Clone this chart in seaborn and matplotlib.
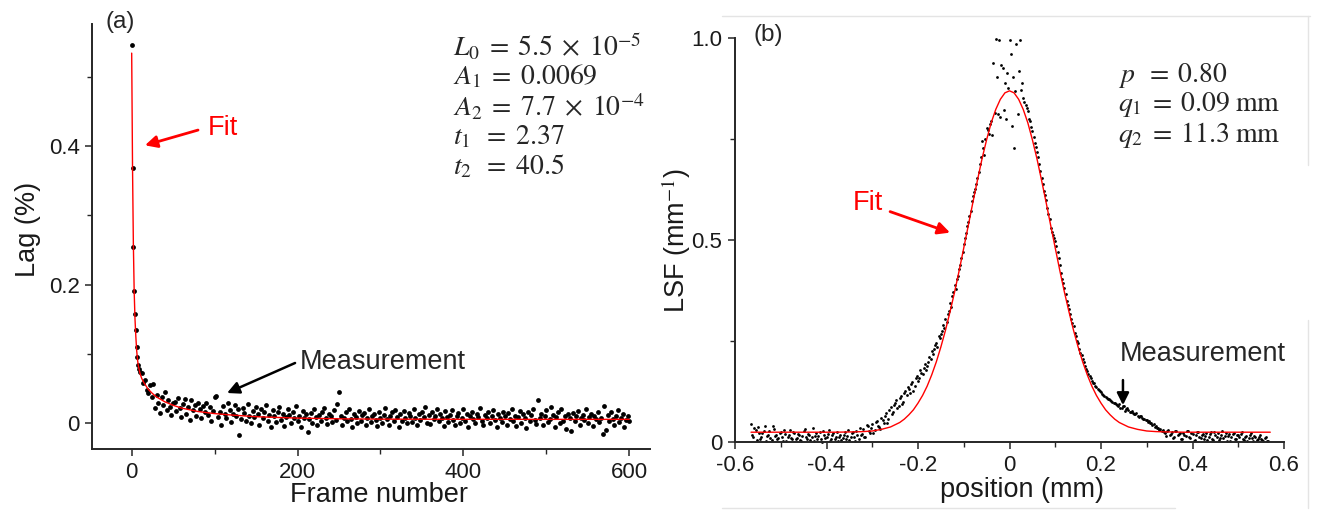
import numpy as np
import matplotlib
matplotlib.use("Agg")
import matplotlib.pyplot as plt
from matplotlib.lines import Line2D
import seaborn as sns

# ---------------- data: panel (a) lag vs frame ----------------
frames = list(range(0, 11)) + list(range(12, 601, 2))
# lag in units of 0.001 %
lag_milli = [
    546, 368, 254, 191, 157, 135, 110, 95, 84, 78, 74,
    72, 58, 63, 48, 44, 55, 38, 57, 22, 41, 29, 15, 38, 27, 45, 19, 33, 24, 12, 30,
    31, 18, 37, 22, 9, 28, 35, 14, 24, 5, 33, 19, 27, 11, 30, 21, 8, 25, 16, 29,
    12, 23, 4, 18, 38, 40, 9, 16, -2, 25, 13, 7, 30, 19, 2, 14, 27, 10, 21, -17,
    6, 22, 15, 3, 28, 11, 0, 18, 9, 24, 13, -3, 20, 7, 16, 26, 4, 12, -6, 19,
    10, 2, 17, 23, 5, 14, -4, 9, 21, 12, 0, 16, 7, 25, 3, 11, -5, 18, 8, 13,
    -13, 6, 15, 1, 20, 9, -3, 12, 4, 17, 22, 7, -1, 14, 10, 2, 19, 5, 28, 45,
    11, -2, 8, 16, 3, 21, 6, -5, 13, 9, 0, 18, 4, 12, 15, -3, 7, 20, 2, 10,
    14, 5, -4, 17, 8, 1, 12, 22, 6, -2, 10, 16, 3, 19, 9, -6, 13, 4, 18, 7,
    0, 15, 11, 2, 20, 8, -3, 13, 5, 17, 9, 23, 1, 12, -1, 16, 6, 10, 21, 3,
    14, 7, -4, 18, 9, 2, 12, 19, 5, -2, 11, 15, 0, 8, 20, 4, 13, -5, 10, 17,
    6, 1, 14, 9, 22, 3, -3, 12, 7, 16, 0, 11, 19, 5, -6, 13, 8, 2, 17, 10,
    -2, 15, 6, 20, 4, 11, -4, 9, 18, 1, 13, 7, -7, 16, 3, 12, 21, 5, -1, 34,
    8, 14, -3, 10, 19, 2, 6, 23, 12, -5, 9, 16, 1, 20, 4, 11, -8, 13, 7, -11,
    15, 3, 10, 18, -2, 7, 12, 5, 21, 0, 9, 14, -4, 11, 6, 17, 2, 8, -15, 25,
    -10, 12, 4, 16, 6, -3, 10, 19, 2, 8, 13, -6, 5, 11, 3,
]
lag = np.array(lag_milli) / 1000.0

fit_frames = [0, 1, 2, 3, 4, 5, 6, 7, 8, 10, 12, 15, 20, 25, 30, 40, 50, 60,
              80, 100, 120, 150, 200, 250, 300, 400, 500, 600]
fit_lag = [0.534, 0.37, 0.26, 0.19, 0.15, 0.125, 0.105, 0.092, 0.083, 0.072,
           0.065, 0.058, 0.049, 0.043, 0.038, 0.031, 0.026, 0.022, 0.017,
           0.014, 0.012, 0.0095, 0.0075, 0.0065, 0.006, 0.0058, 0.0057, 0.0057]

# ---------------- data: panel (b) LSF vs position ----------------
position_1 = np.round(np.arange(-0.565, 0.5651, 0.005), 4)
position_2 = np.round(np.arange(-0.5625, 0.5626, 0.005), 4)
# LSF in units of 0.001 mm^-1
lsf_milli_1 = [
    45, 12, 30, 38, 8, 22, 41, 15, 27, 5, 33, 18, 10, 26, 2, 20, 14, 31, 7, 24,
    11, 17, 3, 28, 13, 21, 6, 35, 16, 9, 25, 1, 19, 12, 30, 7, 23, 14, 4, 18,
    10, 26, 15, 5, 22, 13, 29, 8, 18, 33, 12, 40, 24, 45, 31, 52, 38, 60, 47, 72,
    58, 88, 76, 97, 84, 110, 95, 122, 118, 131, 145, 128, 160, 152, 178, 170, 195, 188, 210, 225,
    232, 245, 262, 268, 290, 305, 318, 345, 362, 390, 405, 428, 455, 490, 518, 545, 572, 610, 628, 655,
    690, 745, 712, 778, 762, 795, 938, 998, 812, 806, 926, 889, 914, 996, 782, 728, 985, 918, 872, 852,
    835, 819, 795, 770, 742, 718, 690, 655, 622, 600, 565, 530, 512, 498, 470, 440, 405, 382, 350, 330,
    305, 288, 262, 245, 222, 205, 190, 176, 165, 152, 146, 138, 130, 124, 118, 112, 108, 104, 100, 97,
    92, 95, 86, 89, 82, 80, 76, 73, 70, 66, 64, 60, 57, 55, 52, 48, 45, 40, 36, 33,
    30, 22, 28, 18, 25, 12, 27, 20, 9, 24, 16, 29, 11, 21, 6, 26, 14, 19, 8, 23,
    13, 25, 5, 18, 22, 10, 27, 15, 3, 20, 12, 24, 7, 17, 21, 9, 14, 2, 19, 11,
    16, 6, 13, 9, 4, 12, 3,
]
lsf_milli_2 = [
    18, 35, 6, 24, 14, 29, 3, 19, 11, 40, 16, 8, 23, 13, 31, 4, 17, 10, 26, 9,
    21, 5, 15, 32, 8, 19, 12, 2, 24, 16, 7, 28, 11, 20, 3, 17, 9, 26, 13, 6,
    19, 8, 30, 12, 25, 4, 17, 36, 21, 14, 42, 28, 35, 22, 50, 41, 33, 56, 66, 49,
    80, 70, 92, 104, 90, 115, 100, 128, 136, 122, 150, 140, 165, 158, 172, 185, 180, 200, 205, 218,
    240, 236, 258, 275, 282, 298, 325, 335, 372, 380, 412, 440, 470, 505, 535, 560, 598, 620, 640, 668,
    705, 728, 750, 772, 788, 760, 815, 905, 995, 935, 822, 800, 878, 960, 905, 870, 812, 996, 890, 842,
    828, 800, 780, 755, 730, 705, 672, 640, 612, 580, 552, 520, 505, 485, 455, 420, 395, 368, 340, 318,
    295, 270, 250, 230, 215, 198, 182, 170, 158, 148, 140, 132, 126, 120, 114, 110, 106, 101, 98, 94,
    90, 84, 91, 78, 85, 74, 78, 69, 72, 62, 65, 58, 54, 50, 47, 43, 38, 35, 31, 28,
    26, 15, 31, 20, 10, 27, 17, 24, 7, 19, 28, 13, 22, 4, 18, 25, 10, 20, 15, 5,
    20, 9, 26, 14, 6, 19, 11, 23, 16, 4, 21, 8, 18, 13, 25, 6, 15, 10, 22, 3,
    14, 8, 18, 5, 11, 2,
]
position = np.concatenate([position_1, position_2])
lsf = np.concatenate([lsf_milli_1, lsf_milli_2]) / 1000.0

fit_pos = [-0.565, -0.50, -0.44, -0.38, -0.34, -0.32, -0.30, -0.28, -0.26, -0.24,
           -0.23, -0.22, -0.21, -0.20, -0.19, -0.18, -0.17, -0.16, -0.15, -0.14,
           -0.13, -0.12, -0.11, -0.10, -0.09, -0.08, -0.07, -0.06, -0.05, -0.04,
           -0.03, -0.02, -0.01, 0.0, 0.01, 0.02, 0.03, 0.04, 0.05, 0.06, 0.07,
           0.08, 0.09, 0.10, 0.11, 0.12, 0.13, 0.14, 0.15, 0.16, 0.17, 0.18,
           0.19, 0.20, 0.21, 0.22, 0.23, 0.24, 0.26, 0.28, 0.30, 0.32, 0.34,
           0.38, 0.44, 0.50, 0.57]
fit_lsf = [0.025, 0.025, 0.025, 0.025, 0.0258, 0.0265, 0.028, 0.032, 0.038, 0.049,
           0.0573, 0.068, 0.0805, 0.097, 0.116, 0.139, 0.167, 0.199, 0.236, 0.277,
           0.323, 0.372, 0.425, 0.481, 0.537, 0.594, 0.649, 0.702, 0.749, 0.791,
           0.824, 0.849, 0.865, 0.870, 0.865, 0.849, 0.824, 0.791, 0.749, 0.702, 0.649,
           0.594, 0.537, 0.481, 0.425, 0.372, 0.323, 0.277, 0.236, 0.199, 0.167, 0.139,
           0.116, 0.097, 0.0805, 0.068, 0.0573, 0.049, 0.038, 0.032, 0.028, 0.0265, 0.0258,
           0.025, 0.025, 0.025, 0.025]

# ---------------- style ----------------
sns.set_style("ticks")
plt.rcParams["font.family"] = ["Liberation Sans", "DejaVu Sans"]
plt.rcParams["mathtext.fontset"] = "stix"
plt.rcParams["axes.unicode_minus"] = False

W, H = 1321, 516
fig = plt.figure(figsize=(W / 100, H / 100), dpi=100)
ax_a = fig.add_axes([92.3 / W, (H - 449.3) / H, (650 - 92.3) / W, (449.3 - 24) / H])
ax_b = fig.add_axes([735 / W, (H - 442.3) / H, 549 / W, 404 / H])

# faint screenshot frame around panel (b)
frame_col = "#e4e4e4"
fig.add_artist(Line2D([722 / W, 1310 / W], [1 - 15.7 / H, 1 - 15.7 / H], color=frame_col, lw=1))
fig.add_artist(Line2D([722 / W, 1175 / W], [1 - 508 / H, 1 - 508 / H], color=frame_col, lw=1))
fig.add_artist(Line2D([1308 / W, 1308 / W], [1 - 15.7 / H, 1 - 165 / H], color=frame_col, lw=1))
fig.add_artist(Line2D([1308 / W, 1308 / W], [1 - 320 / H, 1 - 508 / H], color=frame_col, lw=1))

spine_col = "#262626"
tick_fs = 16
label_fs = 19.5

for ax in (ax_a, ax_b):
    sns.despine(ax=ax)
    for s in ("left", "bottom"):
        ax.spines[s].set_linewidth(1.4)
        ax.spines[s].set_color(spine_col)
    ax.tick_params(which="major", direction="out", length=5, width=1.1,
                   color=spine_col, labelsize=tick_fs, labelcolor="#1a1a1a", pad=4)
    ax.tick_params(which="minor", direction="out", length=3.5, width=1.0, color=spine_col)
    ax.set_facecolor("white")

# ---------------- panel (a) ----------------
sns.scatterplot(x=frames, y=lag, ax=ax_a, color="black", s=12, linewidth=0, zorder=2)
sns.lineplot(x=fit_frames, y=fit_lag, ax=ax_a, color="red", lw=1.0, zorder=3)
ax_a.set_xlim(-47.5, 625)
ax_a.set_ylim(-0.0375, 0.576)
ax_a.set_xticks([0, 200, 400, 600])
ax_a.set_xticklabels(["0", "200", "400", "600"])
ax_a.set_xticks([100, 300, 500], minor=True)
ax_a.set_yticks([0, 0.2, 0.4])
ax_a.set_yticklabels(["0", "0.2", "0.4"])
ax_a.set_yticks([0.1, 0.3, 0.5], minor=True)
ax_a.set_xlabel("Frame number", fontsize=label_fs, color="#1a1a1a")
ax_a.set_ylabel("Lag (%)", fontsize=label_fs, color="#1a1a1a")
ax_a.xaxis.set_label_coords(0.514, -0.077)
ax_a.yaxis.set_label_coords(-0.092, 0.516)

ax_a.text(-14, 0.579, "(a)", fontsize=17.5, ha="center", va="center", clip_on=False)
ax_a.text(110, 0.426, "Fit", fontsize=19.5, color="red", ha="center", va="center")
ax_a.annotate("", xy=(16, 0.401), xytext=(80, 0.423),
              arrowprops=dict(arrowstyle="-|>", color="red", lw=2, mutation_scale=18,
                              shrinkA=0, shrinkB=0))
ax_a.text(303, 0.0886, "Measurement", fontsize=19.5, ha="center", va="center")
ax_a.annotate("", xy=(115, 0.0437), xytext=(197, 0.087),
              arrowprops=dict(arrowstyle="-|>", color="black", lw=1.8, mutation_scale=18,
                              shrinkA=0, shrinkB=0))

params_a = [r"$L_0\;=\;5.5\;\times\;10^{-5}$",
            r"$A_1\;=\;0.0069$",
            r"$A_2\;=\;7.7\;\times\;10^{-4}$",
            r"$t_1\;\;=\;2.37$",
            r"$t_2\;\;=\;40.5$"]
for i, s in enumerate(params_a):
    ax_a.text(387, 0.543 - i * 0.0433, s, fontsize=20, ha="left", va="center")

# ---------------- panel (b) ----------------
sns.scatterplot(x=position, y=lsf, ax=ax_b, color="black", s=4, linewidth=0,
                zorder=2, clip_on=False)
sns.lineplot(x=fit_pos, y=fit_lsf, ax=ax_b, color="red", lw=1.0, zorder=3)
ax_b.set_xlim(-0.6, 0.6)
ax_b.set_ylim(0, 1.0)
ax_b.set_xticks([-0.6, -0.4, -0.2, 0, 0.2, 0.4, 0.6])
ax_b.set_xticklabels(["-0.6", "-0.4", "-0.2", "0", "0.2", "0.4", "0.6"])
ax_b.set_xticks([-0.5, -0.3, -0.1, 0.1, 0.3, 0.5], minor=True)
ax_b.set_yticks([0, 0.5, 1.0])
ax_b.set_yticklabels(["0", "0.5", "1.0"])
ax_b.set_yticks([0.25, 0.75], minor=True)
ax_b.set_xlabel("position (mm)", fontsize=label_fs, color="#1a1a1a")
ax_b.set_ylabel(r"LSF (mm$^{-1}$)", fontsize=label_fs, color="#1a1a1a")
ax_b.xaxis.set_label_coords(0.523, -0.086)
ax_b.yaxis.set_label_coords(-0.0765, 0.50)

ax_b.text(-0.528, 1.009, "(b)", fontsize=17.5, ha="center", va="center", clip_on=False)
ax_b.text(-0.309, 0.592, "Fit", fontsize=19.5, color="red", ha="center", va="center")
ax_b.annotate("", xy=(-0.13, 0.519), xytext=(-0.261, 0.571),
              arrowprops=dict(arrowstyle="-|>", color="red", lw=2, mutation_scale=18,
                              shrinkA=0, shrinkB=0))
ax_b.text(0.423, 0.219, "Measurement", fontsize=19.5, ha="center", va="center")
ax_b.annotate("", xy=(0.248, 0.092), xytext=(0.248, 0.154),
              arrowprops=dict(arrowstyle="-|>", color="black", lw=1.8, mutation_scale=18,
                              shrinkA=0, shrinkB=0))

params_b = [r"$p\;\;=\;0.80$",
            r"$q_1\;=\;0.09\;\mathrm{mm}$",
            r"$q_2\;=\;11.3\;\mathrm{mm}$"]
for i, s in enumerate(params_b):
    ax_b.text(0.237, 0.909 - i * 0.074, s, fontsize=20, ha="left", va="center")

fig.savefig("out.png", dpi=100, facecolor="white")
